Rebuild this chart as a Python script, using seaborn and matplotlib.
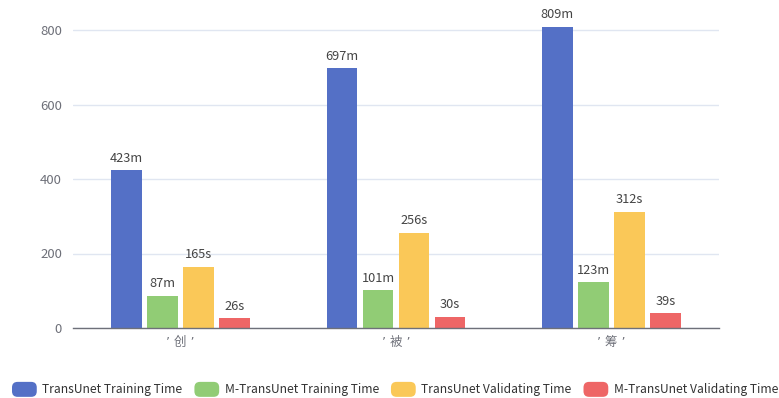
import matplotlib
matplotlib.use("Agg")
import matplotlib.pyplot as plt
import seaborn as sns
import pandas as pd
import numpy as np
from matplotlib.patches import FancyBboxPatch
from matplotlib.legend_handler import HandlerPatch

categories = ["’ 创 ’", "’ 被 ’", "’ 筹 ’"]
series_names = ["TransUnet Training Time", "M-TransUnet Training Time",
                "TransUnet Validating Time", "M-TransUnet Validating Time"]
transunet_train = [423, 697, 809]
m_transunet_train = [87, 101, 123]
transunet_val = [165, 256, 312]
m_transunet_val = [26, 30, 39]
units = ["m", "m", "s", "s"]
colors = ["#5470c6", "#91cc75", "#fac858", "#ee6666"]

sns.set_theme(style="white")
plt.rcParams['font.family'] = ['Noto Sans CJK SC', 'DejaVu Sans']

all_vals = [transunet_train, m_transunet_train, transunet_val, m_transunet_val]
rows = []
for name, vals in zip(series_names, all_vals):
    for c, v in zip(categories, vals):
        rows.append({"cat": c, "series": name, "value": v})
df = pd.DataFrame(rows)

fig = plt.figure(figsize=(7.79, 3.98), dpi=100)
ax = fig.add_axes([73/779, 70/398, (719-73)/779, (328-20)/398])

sns.barplot(data=df, x="cat", y="value", hue="series", order=categories,
            hue_order=series_names, palette=colors, width=0.67, gap=0.15,
            saturation=1, ax=ax, legend=False, edgecolor="none")

ax.set_ylim(0, 800 * (328 - 20) / 298)
ax.set_xlim(-0.5, 2.5)
ax.set_yticks([0, 200, 400, 600, 800])
ax.set_xlabel("")
ax.set_ylabel("")
for s in ["top", "right", "left"]:
    ax.spines[s].set_visible(False)
ax.spines["bottom"].set_color("#6e7079")
ax.spines["bottom"].set_linewidth(1)
ax.grid(axis="y", color="#e0e6f1", linewidth=1)
ax.set_axisbelow(True)
ax.tick_params(axis="y", length=0, labelsize=9.5, labelcolor="#6e7079", pad=8)
ax.set_xticks([0, 1, 2])
ax.set_xticklabels(categories, family=['DejaVu Sans', 'Noto Sans CJK SC'])
ax.tick_params(axis="x", length=0, labelsize=9, labelcolor="#6e7079", pad=6)
ax.set_xticks([-0.5, 0.5, 1.5, 2.5], minor=True)
ax.tick_params(axis="x", which="minor", length=5, color="#6e7079", width=1, direction="out")

for container, u in zip(ax.containers, units):
    labels = [f"{int(v)}{u}" for v in container.datavalues]
    ax.bar_label(container, labels=labels, padding=4, fontsize=9.2, color="#444444")


class RoundHandler(HandlerPatch):
    def create_artists(self, legend, orig_handle, xdescent, ydescent, width, height, fontsize, trans):
        p = FancyBboxPatch((-xdescent, -ydescent - 1.5), width, height + 3,
                           boxstyle="round,pad=0,rounding_size=4",
                           facecolor=orig_handle.get_facecolor(), edgecolor="none",
                           transform=trans)
        return [p]

handles = [plt.Rectangle((0, 0), 1, 1, facecolor=c) for c in colors]
fig.legend(handles, series_names, loc="center left", bbox_to_anchor=(12/779, 1 - 390/398),
           ncol=4, frameon=False, fontsize=8.7, labelcolor="#333333",
           handler_map={plt.Rectangle: RoundHandler()}, handlelength=2.05,
           handleheight=1.0, handletextpad=0.45, columnspacing=1.0,
           borderaxespad=0, borderpad=0)

fig.savefig("out.png", dpi=100)
